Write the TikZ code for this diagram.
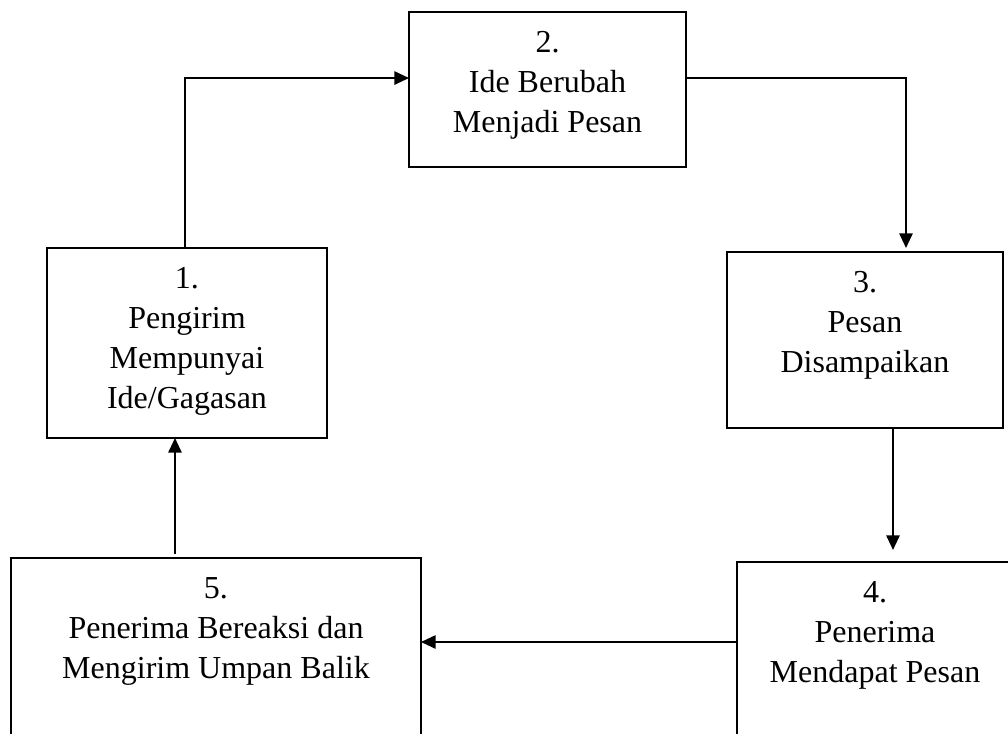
\documentclass[tikz,border=0pt]{standalone}
\usepackage{fontspec}
\setmainfont{Liberation Serif}
\usetikzlibrary{arrows.meta}
\begin{document}
\begin{tikzpicture}[x=0.75pt,y=-0.75pt,
  box/.style={draw, line width=1.4pt, inner sep=0pt, outer sep=0pt},
  lbl/.style={anchor=north, align=center, inner sep=0pt, font=\fontsize{24}{30}\selectfont},
  arr/.style={line width=1.4pt, -{Triangle[length=11pt,width=10pt]}}]
\useasboundingbox (0,0) rectangle (1008,734);
\clip (0,0) rectangle (1008,734);
% boxes
\node[box, minimum width=210pt, minimum height=142.5pt] (b1) at (187,343) {};
\node[box, minimum width=207.75pt, minimum height=116.25pt] (b2) at (547.5,89.5) {};
\node[box, minimum width=207pt, minimum height=132pt] (b3) at (865,340) {};
\node[box, minimum width=207pt, minimum height=148.5pt] (b4) at (875,661) {};
\node[box, minimum width=307.5pt, minimum height=151.5pt] (b5) at (216,659) {};
% texts
\node[lbl] (t1) at (187,267.5) {1.\\Pengirim\\Mempunyai\\Ide/Gagasan};
\node[lbl] (t2) at (547.5,31.5) {2.\\Ide Berubah\\Menjadi Pesan};
\node[lbl] (t3) at (865,271.5) {3.\\Pesan\\Disampaikan};
\node[lbl] (t4) at (875,581.5) {4.\\Penerima\\Mendapat Pesan};
\node[lbl] (t5) at (216,577.5) {5.\\Penerima Bereaksi dan\\Mengirim Umpan Balik};
% connectors
\draw[arr] ([xshift=-1.5pt]b1.north) |- ([yshift=8.6pt]b2.west);
\draw[arr, shorten >=3pt] ([yshift=8.6pt]b2.east) -| ([xshift=30.75pt]b3.north);
\draw[arr, shorten >=9pt] ([xshift=21pt]b3.south) -- ([xshift=21pt]b3.south |- b4.north);
\draw[arr] ([yshift=14.25pt]b4.west) -- ([yshift=14.25pt]b4.west -| b5.east);
\draw[arr, shorten <=3pt] ([xshift=-30.75pt]b5.north) -- ([xshift=-30.75pt]b5.north |- b1.south);
\end{tikzpicture}
\end{document}
